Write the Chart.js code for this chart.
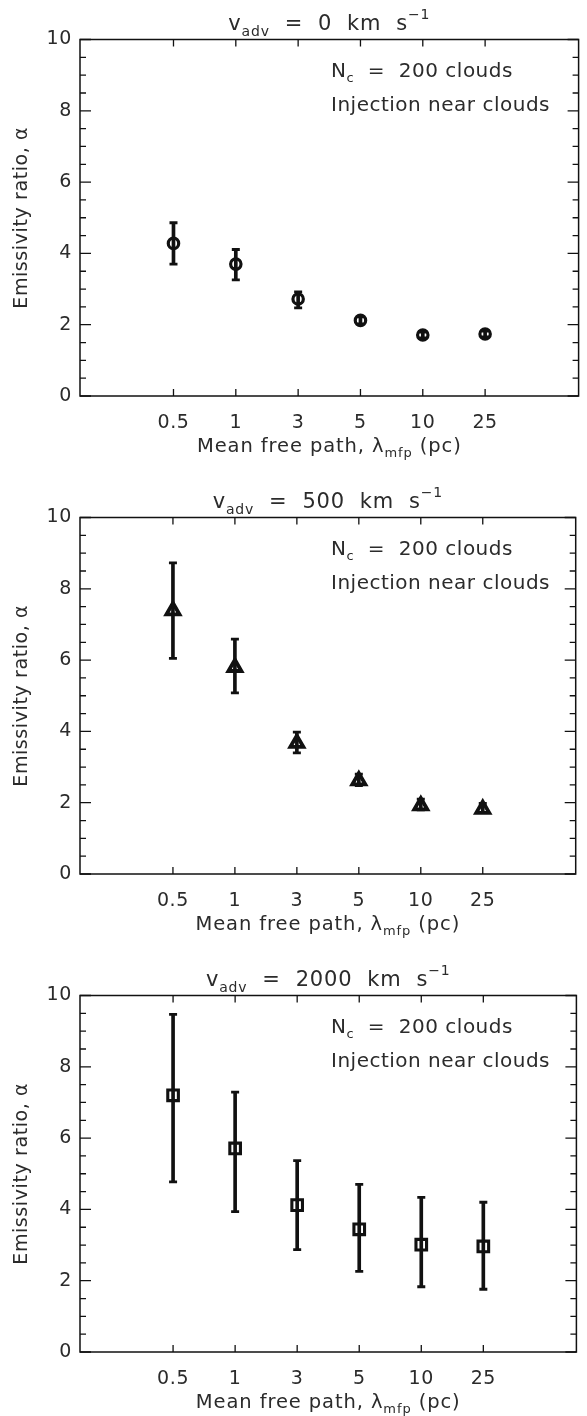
<!DOCTYPE html>
<html>
<head>
<meta charset="utf-8">
<script src="https://cdn.jsdelivr.net/npm/chart.js@4.4.1/dist/chart.umd.min.js"></script>
<style>
  html, body { margin: 0; padding: 0; background: #fff; overflow: hidden; }
  .panel { position: absolute; left: 0; width: 587px; height: 478px; }
</style>
</head>
<body>
<div class="panel" style="top:0"><canvas id="p0" width="587" height="478"></canvas></div>
<div class="panel" style="top:478px"><canvas id="p500" width="587" height="478"></canvas></div>
<div class="panel" style="top:956px"><canvas id="p2000" width="587" height="478"></canvas></div>
<script>
"use strict";

// mean free path categories (pc)
const lambdaLabels = ['0.5', '1', '3', '5', '10', '25'];
const yTicksMajor = [0, 2, 4, 6, 8, 10];

// v_adv = 0 km/s
const alpha0 = [4.28, 3.70, 2.72, 2.12, 1.71, 1.74];
const lo0    = [3.70, 3.26, 2.47, 2.02, 1.63, 1.66];
const hi0    = [4.86, 4.11, 2.92, 2.22, 1.79, 1.82];

// v_adv = 500 km/s
const alpha500 = [7.39, 5.80, 3.67, 2.62, 1.92, 1.82];
const lo500    = [6.05, 5.08, 3.40, 2.48, 1.80, 1.72];
const hi500    = [8.73, 6.59, 3.98, 2.80, 2.10, 1.98];

// v_adv = 2000 km/s
const alpha2000 = [7.20, 5.71, 4.12, 3.44, 3.01, 2.96];
const lo2000    = [4.77, 3.94, 2.87, 2.26, 1.83, 1.76];
const hi2000    = [9.47, 7.29, 5.37, 4.70, 4.34, 4.20];

const INK = '#111';
const TXT = '#2b2b2b';
const FONT = '"DejaVu Sans", sans-serif';

// draws a run of text pieces (normal / sub / sup) centred or left aligned
function drawRich(ctx, parts, x, y, align) {
    let total = 0;
    parts.forEach(p => {
        ctx.font = `${p.size}px ${FONT}`;
        p.w = ctx.measureText(p.t).width;
        total += p.w;
    });
    let cx = align === 'center' ? x - total / 2 : x;
    parts.forEach(p => {
        ctx.font = `${p.size}px ${FONT}`;
        ctx.fillText(p.t, cx, y + (p.dy || 0));
        cx += p.w;
    });
}

const panelDecor = {
    id: 'panelDecor',
    beforeDraw(chart) {
        // wider spacing, closer to the plotting font of the original
        chart.ctx.letterSpacing = '0.6px';
    },
    afterDatasetsDraw(chart, args, opts) {
        const { ctx, chartArea: a, scales: { x, y } } = chart;
        ctx.save();
        ctx.strokeStyle = INK;
        ctx.lineWidth = 1.5;
        ctx.strokeRect(a.left, a.top, a.right - a.left, a.bottom - a.top);

        // inward ticks on all four sides
        ctx.lineWidth = 1.3;
        ctx.beginPath();
        y.ticks.forEach(t => {
            const py = y.getPixelForValue(t.value);
            const len = yTicksMajor.includes(t.value) ? 11 : 6;
            ctx.moveTo(a.left, py); ctx.lineTo(a.left + len, py);
            ctx.moveTo(a.right, py); ctx.lineTo(a.right - len, py);
        });
        x.ticks.forEach(t => {
            if (!lambdaLabels[t.value - 1]) return;
            const px = x.getPixelForValue(t.value);
            ctx.moveTo(px, a.bottom); ctx.lineTo(px, a.bottom - 7);
            ctx.moveTo(px, a.top); ctx.lineTo(px, a.top + 7);
        });
        ctx.stroke();

        ctx.fillStyle = TXT;
        ctx.textBaseline = 'alphabetic';
        const cx = (a.left + a.right) / 2;
        ctx.letterSpacing = '0.8px';
        drawRich(ctx, [
            { t: 'v', size: 21 },
            { t: 'adv', size: 14, dy: 6 },
            { t: '  =  ' + opts.speed + '  km  s', size: 21 },
            { t: '\u22121', size: 14, dy: -11 }
        ], cx, a.top - 10, 'center');

        ctx.letterSpacing = '0.9px';
        drawRich(ctx, [
            { t: 'Mean free path, \u03bb', size: 19.5 },
            { t: 'mfp', size: 13, dy: 5 },
            { t: ' (pc)', size: 19.5 }
        ], cx, a.bottom + 56, 'center');

        ctx.letterSpacing = '0.5px';
        drawRich(ctx, [
            { t: 'N', size: 20 },
            { t: 'c', size: 13, dy: 5 },
            { t: '  =  200 clouds', size: 20 }
        ], 331, a.top + 37, 'left');
        drawRich(ctx, [{ t: 'Injection near clouds', size: 20 }], 331, a.top + 71, 'left');
        ctx.restore();
    }
};

function toPoints(vals) {
    return vals.map((v, i) => ({ x: i + 1, y: v }));
}

function renderPanel(canvasId, speed, vals, lo, hi, marker, radius, markerWidth) {
    const ctx = document.getElementById(canvasId).getContext('2d');
    const capStyle = { type: 'scatter', pointStyle: 'line', pointRadius: 4, borderWidth: 2.8, borderColor: INK, backgroundColor: INK };
    return new Chart(ctx, {
        type: 'scatter',
        data: {
            datasets: [
                {
                    type: 'bar',
                    data: lo.map((l, i) => ({ x: i + 1, y: [l, hi[i]] })),
                    backgroundColor: INK, borderWidth: 0, barThickness: 3
                },
                { ...capStyle, data: toPoints(hi) },
                { ...capStyle, data: toPoints(lo) },
                {
                    data: toPoints(vals), pointStyle: marker, pointRadius: radius,
                    borderWidth: markerWidth, borderColor: INK, backgroundColor: 'rgba(0,0,0,0)'
                }
            ]
        },
        options: {
            responsive: false, animation: false, devicePixelRatio: 1,
            layout: { padding: { left: 0, top: 39.5, right: 6, bottom: 0 } },
            plugins: { legend: { display: false }, tooltip: { enabled: false }, panelDecor: { speed } },
            scales: {
                x: {
                    type: 'linear', min: 0, max: 7,
                    grid: { display: false, drawTicks: false }, border: { display: false },
                    ticks: {
                        stepSize: 1, autoSkip: false, maxRotation: 0, padding: 16, color: TXT,
                        font: { family: FONT, size: 19 },
                        callback: v => lambdaLabels[v - 1] || ''
                    },
                    afterFit: s => { s.height = 82; }
                },
                y: {
                    min: 0, max: 10,
                    grid: { display: false, drawTicks: false }, border: { display: false },
                    ticks: {
                        stepSize: 0.5, autoSkip: false, padding: 8, color: TXT,
                        font: { family: FONT, size: 19 },
                        callback: v => yTicksMajor.includes(v) ? String(v) : ''
                    },
                    title: {
                        display: true, text: 'Emissivity ratio, \u03b1', color: TXT,
                        font: { family: FONT, size: 19 }, padding: { top: 11, bottom: 0 }
                    },
                    afterFit: s => { s.width = 80; }
                }
            }
        },
        plugins: [panelDecor]
    });
}

renderPanel('p0', '0', alpha0, lo0, hi0, 'circle', 5.2, 3.2);
renderPanel('p500', '500', alpha500, lo500, hi500, 'triangle', 7.5, 3.8);
renderPanel('p2000', '2000', alpha2000, lo2000, hi2000, 'rect', 7.5, 3.1);
</script>
</body>
</html>
